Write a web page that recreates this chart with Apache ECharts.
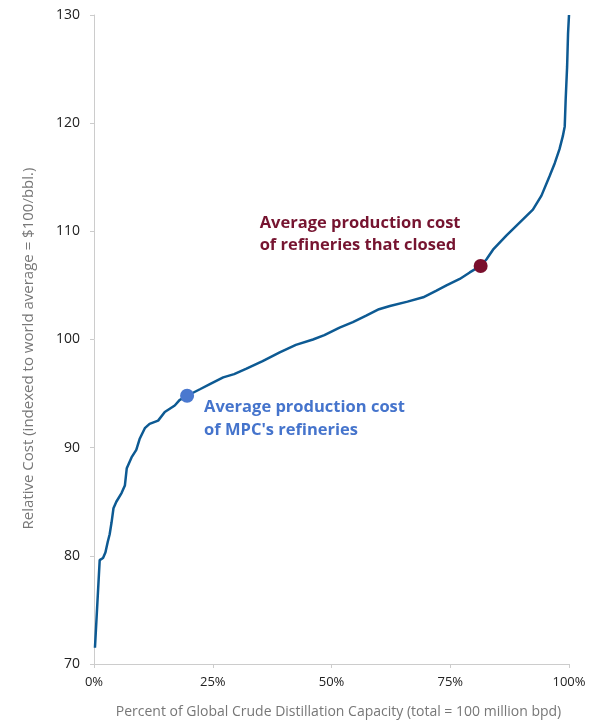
<!DOCTYPE html>
<html>
<head>
<meta charset="utf-8">
<script src="https://cdn.jsdelivr.net/npm/echarts@6/dist/echarts.min.js"></script>
<style>
  html, body { margin: 0; padding: 0; background: #fff; }
  #chart { width: 601px; height: 724px; }
</style>
</head>
<body>
<div id="chart"></div>
<script>
// Cumulative refining capacity (% of global) vs. relative cost (world average = 100)
const capacityPct = [
  0.2, 0.5, 1.2, 1.4, 1.9, 2.4, 2.9, 3.3, 3.7, 4.1, 4.7, 5.8, 6.5, 6.9, 7.9, 8.9,
  9.6, 10.7, 11.7, 13.5, 14.9, 17.0, 18.0, 19.6, 22.3, 24.5, 27.2, 29.5, 32.1,
  35.5, 39.1, 42.5, 46.1, 48.5, 51.7, 54.5, 57.3, 60.0, 62.3, 66.0, 69.3, 72.0,
  74.2, 77.0, 79.1, 81.4, 82.6, 84.0, 86.8, 89.6, 92.4, 94.2, 95.9, 97.0, 98.0,
  98.7, 99.1, 99.3, 99.6, 99.8, 100
];
const relativeCost = [
  71.5, 71.5, 79.6, 79.7, 79.8, 80.3, 81.3, 82.0, 83.1, 84.4, 85.0, 85.8, 86.5, 88.1, 89.1, 89.8,
  90.8, 91.8, 92.2, 92.5, 93.3, 93.9, 94.4, 94.8, 95.4, 95.9, 96.5, 96.8, 97.3,
  98.0, 98.8, 99.5, 100.0, 100.4, 101.1, 101.6, 102.2, 102.8, 103.1, 103.5, 103.9, 104.5,
  105.0, 105.6, 106.2, 106.8, 107.4, 108.3, 109.6, 110.8, 112.0, 113.3, 115.1, 116.3, 117.6,
  118.8, 119.7, 122.2, 125.2, 128.3, 130
];

// Highlighted averages
const mpcPoint = [19.6, 94.8];
const closedPoint = [81.4, 106.8];
const mpcLabel = ['Average production cost', "of MPC's refineries"];
const closedLabel = ['Average production cost', 'of refineries that closed'];

const xTicks = [0, 25, 50, 75, 100];
const yMin = 70, yMax = 130, yStep = 10;

const FONT = '"Open Sans", Lato, sans-serif';
const chart = echarts.init(document.getElementById('chart'), null, { renderer: 'canvas' });

chart.setOption({
  animation: false,
  backgroundColor: '#ffffff',
  grid: { left: 94, right: 32, top: 15, bottom: 58, containLabel: false },
  xAxis: {
    type: 'value',
    min: xTicks[0],
    max: xTicks[xTicks.length - 1],
    interval: xTicks[1] - xTicks[0],
    name: 'Percent of Global Crude Distillation Capacity (total = 100 million bpd)',
    nameLocation: 'middle',
    nameGap: 41,
    nameTextStyle: { color: '#777777', fontSize: 14, fontFamily: FONT, padding: [0, 0, 0, 14] },
    axisLine: { show: true, lineStyle: { color: '#cccccc', width: 1 } },
    axisTick: { show: true, length: 4, lineStyle: { color: '#cccccc' } },
    axisLabel: { color: '#222222', fontSize: 13, fontFamily: FONT, margin: 12, formatter: '{value}%' },
    splitLine: { show: false }
  },
  yAxis: {
    type: 'value',
    min: yMin,
    max: yMax,
    interval: yStep,
    name: 'Relative Cost (indexed to world average = $100/bbl.)',
    nameLocation: 'middle',
    nameGap: 58,
    nameTextStyle: { color: '#777777', fontSize: 15, fontFamily: FONT, padding: [0, 18, 0, 0] },
    axisLine: { show: true, lineStyle: { color: '#cccccc', width: 1 } },
    axisTick: { show: true, length: 4, lineStyle: { color: '#cccccc' } },
    axisLabel: { color: '#222222', fontSize: 14, fontFamily: FONT, margin: 14 },
    splitLine: { show: false }
  },
  series: [
    {
      type: 'line',
      data: capacityPct.map((x, i) => [x, relativeCost[i]]),
      showSymbol: false,
      symbol: 'none',
      smooth: false,
      lineStyle: { color: '#0d5a93', width: 2.5 },
      z: 2
    },
    {
      type: 'scatter',
      data: [mpcPoint],
      symbolSize: 14,
      itemStyle: { color: '#4a78cf', opacity: 1 },
      z: 3,
      label: {
        show: true,
        position: [24, 7],
        align: 'left',
        verticalAlign: 'top',
        formatter: mpcLabel.join('\n'),
        color: '#4574cc',
        fontSize: 16.5,
        fontWeight: 'bold',
        lineHeight: 23,
        fontFamily: FONT
      }
    },
    {
      type: 'scatter',
      data: [closedPoint],
      symbolSize: 14,
      itemStyle: { color: '#7a0f2d', opacity: 1 },
      z: 3,
      label: {
        show: true,
        position: [-214, -47],
        align: 'left',
        verticalAlign: 'top',
        formatter: closedLabel.join('\n'),
        color: '#761430',
        fontSize: 16.5,
        fontWeight: 'bold',
        lineHeight: 22,
        fontFamily: FONT
      }
    }
  ]
});
</script>
</body>
</html>
